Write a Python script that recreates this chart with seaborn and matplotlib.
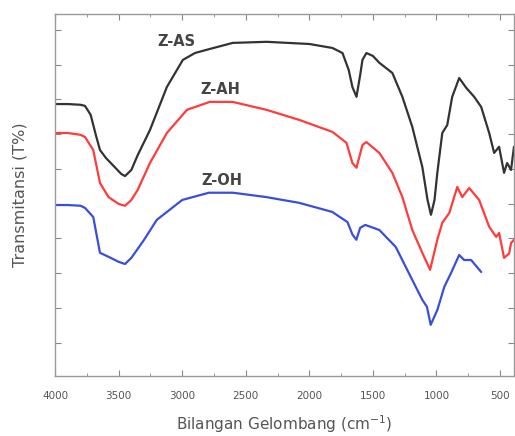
import numpy as np
import pandas as pd
import matplotlib
matplotlib.use('Agg')
import matplotlib.pyplot as plt
from matplotlib.ticker import MultipleLocator
import seaborn as sns

# Datos (numero de onda en cm-1, transmitancia relativa)
w_as = [4000, 3900, 3800, 3765, 3720, 3680, 3647, 3600, 3540, 3480, 3450, 3400, 3350, 3254,
        3121, 2995, 2900, 2807, 2603, 2336, 2000, 1818, 1739, 1690, 1661, 1629, 1600, 1582,
        1551, 1500, 1449, 1347, 1268, 1190, 1111, 1070, 1043, 1015, 993, 954, 915, 876, 821,
        766, 703, 648, 585, 546, 507, 468, 444, 413, 390]
t_as = [75.1, 75.1, 74.9, 74.6, 72.1, 66.6, 62.4, 60.2, 58.0, 55.8, 55.2, 56.9, 61.0, 67.9,
        79.8, 87.3, 89.2, 90.1, 92.0, 92.3, 91.7, 90.6, 89.2, 84.5, 79.8, 77.1, 83.1, 87.3,
        89.2, 88.4, 86.5, 83.7, 77.1, 68.8, 57.7, 48.6, 44.5, 48.6, 56.1, 67.1, 69.3, 77.1,
        82.3, 79.6, 77.1, 74.3, 67.1, 61.6, 63.3, 56.1, 58.8, 56.9, 63.3]

w_ah = [4000, 3900, 3800, 3765, 3700, 3647, 3580, 3500, 3450, 3400, 3350, 3254, 3121, 2963,
        2783, 2603, 2336, 2077, 1818, 1708, 1661, 1629, 1582, 1551, 1449, 1347, 1268, 1190,
        1111, 1050, 993, 954, 899, 836, 797, 742, 664, 585, 530, 507, 468, 428, 413, 390]
t_ah = [67.1, 67.1, 66.6, 66.0, 62.4, 53.3, 49.4, 47.5, 47.0, 48.6, 51.4, 58.8, 67.1, 73.5,
        75.7, 75.7, 73.5, 70.7, 67.4, 64.4, 58.8, 57.5, 63.8, 64.6, 61.6, 56.1, 49.4, 40.3,
        34.0, 29.3, 37.6, 42.3, 45.0, 52.2, 49.4, 51.9, 48.6, 41.2, 38.4, 39.5, 32.6, 33.8,
        36.7, 37.6]

w_oh = [4000, 3900, 3800, 3765, 3700, 3647, 3580, 3500, 3450, 3400, 3300, 3200, 3000, 2790,
        2600, 2340, 2080, 1820, 1700, 1660, 1630, 1600, 1560, 1449, 1320, 1190, 1111, 1075,
        1045, 993, 938, 884, 821, 782, 727, 648]
t_oh = [47.2, 47.2, 47.0, 46.4, 43.9, 34.0, 32.9, 31.5, 30.9, 32.6, 37.6, 43.1, 48.6, 50.6,
        50.6, 49.4, 47.8, 45.3, 42.5, 39.0, 37.6, 40.9, 41.7, 40.3, 35.6, 26.5, 21.0, 19.1,
        14.1, 18.2, 24.6, 28.5, 33.4, 32.0, 32.0, 28.7]

nombres = ['Z-AS', 'Z-AH', 'Z-OH']
colores = ['#333333', '#ff3b3b', '#3a4fd8']

sns.set_style('ticks')
plt.rcParams['font.family'] = ['DejaVu Sans']

fig = plt.figure(figsize=(5.15, 4.36), dpi=100)
ax = fig.add_axes([0.107, 0.138, 0.891, 0.830])

for w, t, c in zip([w_as, w_ah, w_oh], [t_as, t_ah, t_oh], colores):
    df = pd.DataFrame({'w': w, 't': t})
    sns.lineplot(data=df, x='w', y='t', color=c, linewidth=1.6, sort=False, ax=ax)

ax.set_xlim(4000, 390)
ax.set_ylim(0, 100)
ax.xaxis.set_major_locator(MultipleLocator(500))
ax.xaxis.set_minor_locator(MultipleLocator(250))
ax.set_yticks(np.arange(9.2, 100, 9.6))
ax.set_yticklabels([])
ax.tick_params(direction='in', which='both', top=True, right=True, colors='#888888',
               labelcolor='#555555', labelsize=7.5, length=4, pad=11)
ax.tick_params(which='minor', length=2.5)
for s in ax.spines.values():
    s.set_color('#999999')
    s.set_linewidth(1.0)

# Etiquetas de las curvas
ax.text(3042, 92.5, nombres[0], fontsize=10.5, fontweight='bold', color='#444444',
        ha='center', va='center')
ax.text(2697, 79.0, nombres[1], fontsize=10.5, fontweight='bold', color='#444444',
        ha='center', va='center')
ax.text(2689, 54.1, nombres[2], fontsize=10.5, fontweight='bold', color='#444444',
        ha='center', va='center')

ax.set_xlabel('Bilangan Gelombang (cm$^{-1}$)', fontsize=11, color='#555555', labelpad=9)
ax.set_ylabel('Transmitansi (T%)', fontsize=11.5, color='#555555', labelpad=9)

plt.savefig('out.png', dpi=100)
